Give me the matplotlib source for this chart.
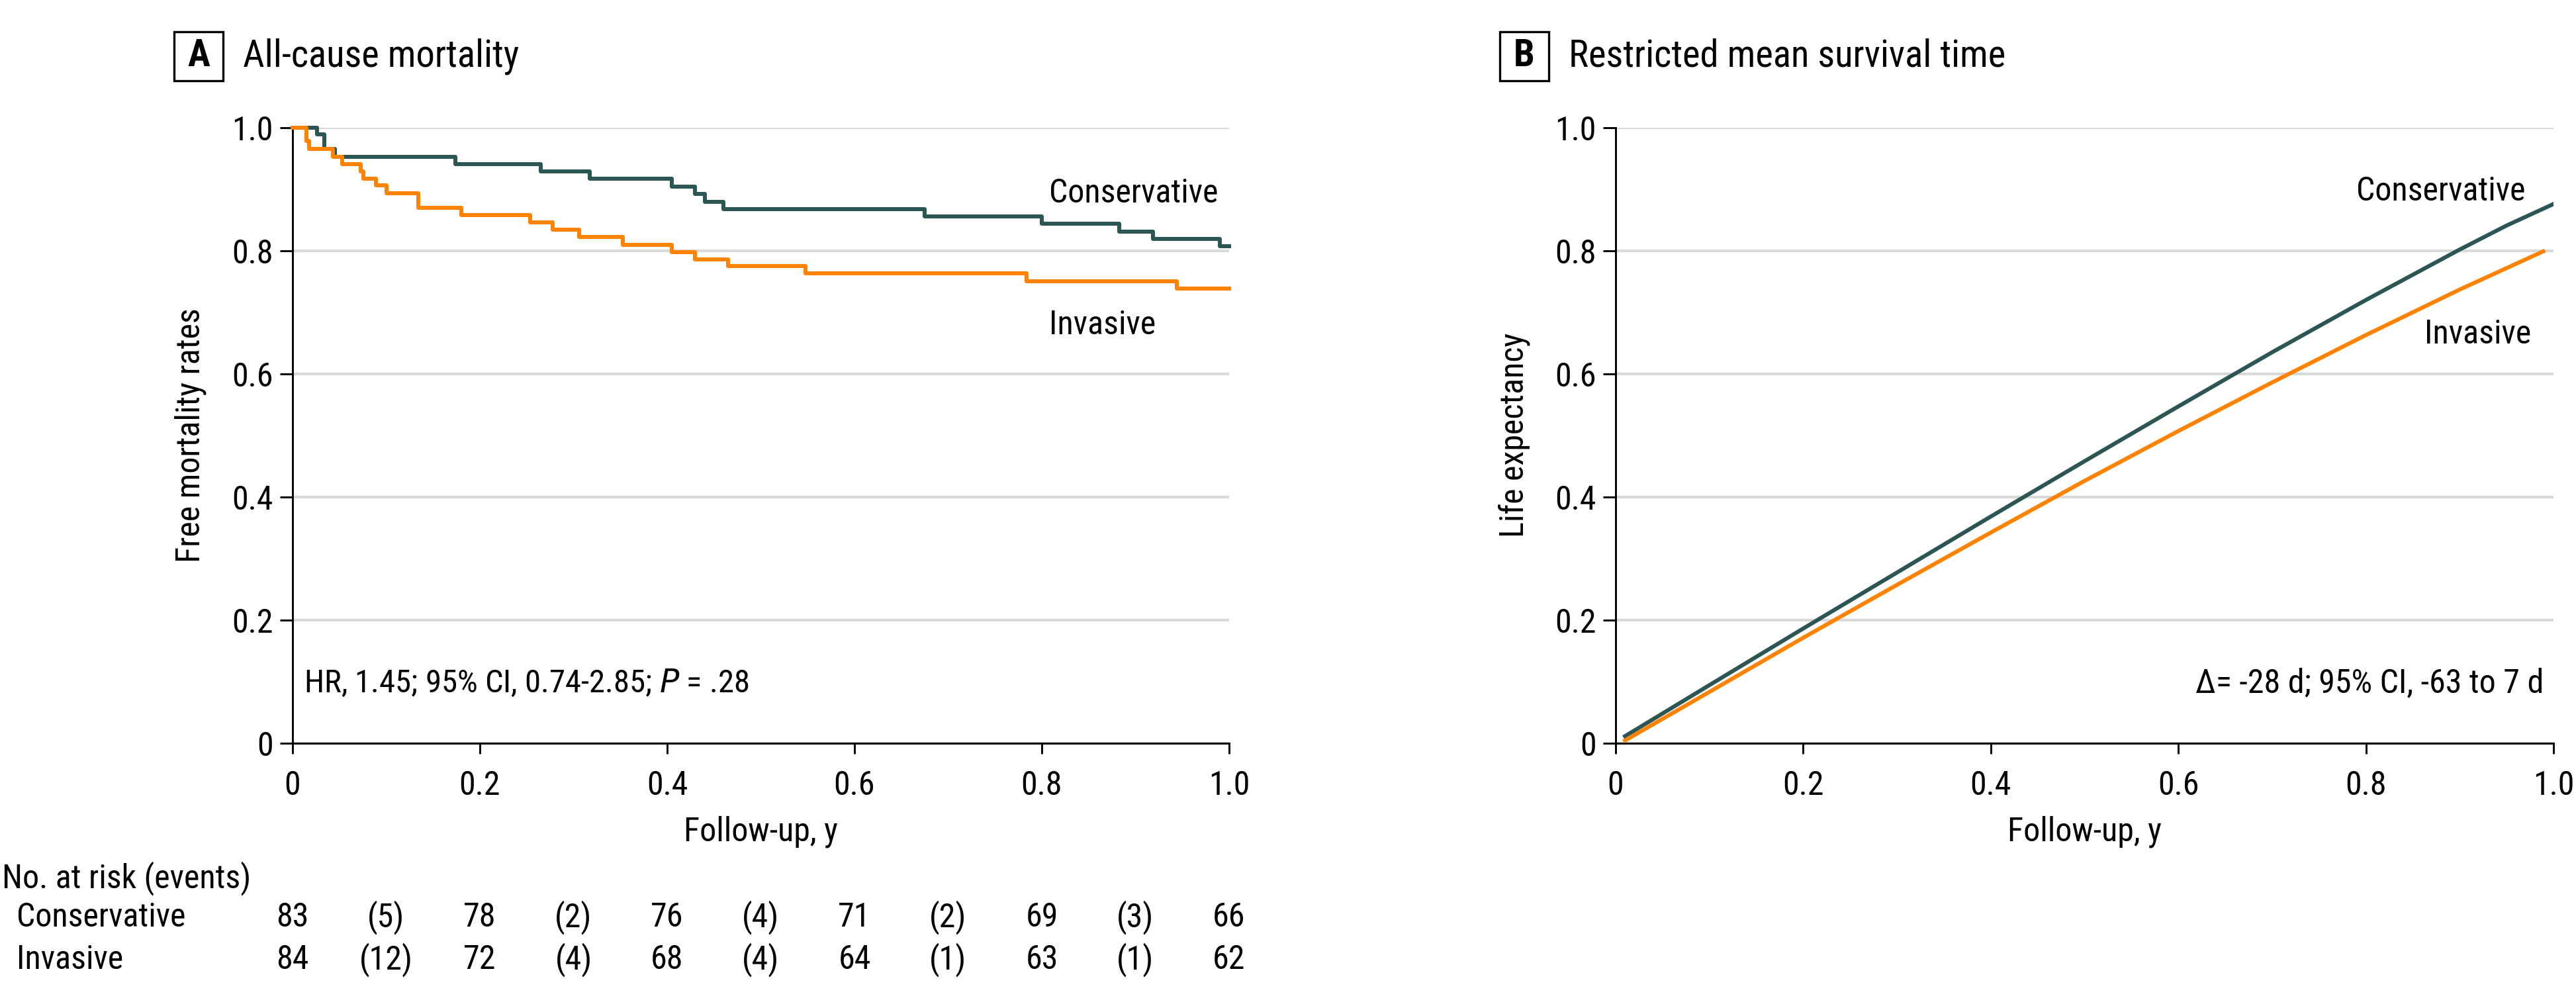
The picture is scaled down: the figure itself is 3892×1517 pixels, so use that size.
import matplotlib
matplotlib.use("Agg")
import matplotlib.pyplot as plt
import matplotlib.font_manager as fm
from matplotlib.patches import Rectangle
from matplotlib.transforms import blended_transform_factory

# ---- data ----
# panel A: Kaplan-Meier steps (time in years, survival)
cons_t = [0, 0.026, 0.034, 0.045, 0.174, 0.265, 0.317, 0.405, 0.430, 0.440, 0.460,
          0.675, 0.800, 0.883, 0.919, 0.990, 1.0]
cons_s = [1.0, 0.989, 0.965, 0.953, 0.941, 0.929, 0.917, 0.904, 0.892, 0.880, 0.868,
          0.856, 0.844, 0.831, 0.819, 0.807, 0.807]
inv_t = [0, 0.0146, 0.018, 0.043, 0.053, 0.0725, 0.0753, 0.0889, 0.100, 0.134, 0.180,
         0.254, 0.278, 0.306, 0.353, 0.405, 0.430, 0.465, 0.548, 0.784, 0.944, 1.0]
inv_s = [1.0, 0.978, 0.966, 0.953, 0.941, 0.929, 0.917, 0.906, 0.894, 0.870, 0.858,
         0.846, 0.834, 0.822, 0.810, 0.798, 0.786, 0.775, 0.763, 0.750, 0.739, 0.739]

# number at risk table
risk_times = [0, 0.2, 0.4, 0.6, 0.8, 1.0]
cons_at_risk = [83, 78, 76, 71, 69, 66]
cons_events = [5, 2, 4, 2, 3]
inv_at_risk = [84, 72, 68, 64, 63, 62]
inv_events = [12, 4, 4, 1, 1]

# panel B: restricted mean survival time curves
rmst_cons_t = [0.01, 0.1, 0.2, 0.3, 0.4, 0.5, 0.6, 0.7, 0.8, 0.9, 0.95, 1.0]
rmst_cons = [0.011, 0.094, 0.186, 0.277, 0.368, 0.458, 0.547, 0.635, 0.720, 0.802, 0.841, 0.876]
rmst_inv_t = [0.01, 0.1, 0.2, 0.3, 0.4, 0.5, 0.6, 0.7, 0.8, 0.9, 0.989]
rmst_inv = [0.004, 0.083, 0.171, 0.257, 0.342, 0.426, 0.507, 0.586, 0.663, 0.737, 0.799]

ticks = [0, 0.2, 0.4, 0.6, 0.8, 1.0]
tick_labels = ["0", "0.2", "0.4", "0.6", "0.8", "1.0"]

# ---- font: prefer a condensed face ----
names = {f.name for f in fm.fontManager.ttflist}
family = "DejaVu Sans"
for cand in ["Roboto Condensed", "Liberation Sans Narrow", "DejaVu Sans Condensed",
             "Open Sans Condensed", "Noto Sans Condensed"]:
    if cand in names:
        family = cand
        break
plt.rcParams["font.family"] = [family, "DejaVu Sans"]

C_CONS = "#2b5654"
C_INV = "#ff8300"
FS = 12
FS_TITLE = 13.6

W, H = 3892, 1517
fig = plt.figure(figsize=(W / 300, H / 300), dpi=300)


def style_axes(ax):
    ax.set_xlim(0, 1)
    ax.set_ylim(0, 1)
    ax.set_xticks(ticks, tick_labels)
    ax.set_yticks(ticks, tick_labels)
    for s in ["top", "right"]:
        ax.spines[s].set_visible(False)
    for s in ["left", "bottom"]:
        ax.spines[s].set_linewidth(0.7)
    ax.tick_params(axis="y", direction="out", length=4.5, width=0.7, pad=2.5, labelsize=FS)
    ax.tick_params(axis="x", direction="out", length=3.8, width=0.7, pad=6, labelsize=FS)
    ax.grid(True, axis="y", color="#d9d9d9", linewidth=1.0)
    ax.set_axisbelow(True)
    ax.set_xlabel("Follow-up, y", fontsize=FS, labelpad=5)


def panel_title(x_box, letter, text):
    bw, bh = 74 / W, 74 / H
    y0 = 1 - 122 / H
    fig.patches.append(Rectangle((x_box / W, y0), bw, bh, transform=fig.transFigure,
                                 fill=False, edgecolor="black", linewidth=0.8))
    fig.text(x_box / W + bw / 2, y0 + bh / 2, letter, ha="center", va="center",
             fontsize=FS_TITLE, fontweight="bold")
    fig.text(x_box / W + bw + 30 / W, y0 + bh / 2, text, ha="left", va="center",
             fontsize=FS_TITLE)


# ---- panel A ----
ax1 = fig.add_axes([442 / W, 0.26, 1415 / W, 0.6128])
ax1.step(cons_t, cons_s, where="post", color=C_CONS, linewidth=1.45, clip_on=False, zorder=3)
ax1.step(inv_t, inv_s, where="post", color=C_INV, linewidth=1.45, clip_on=False, zorder=3)
style_axes(ax1)
ax1.set_ylabel("Free mortality rates", fontsize=FS)
ax1.yaxis.set_label_coords(-0.092, 0.5)
ax1.text(0.808, 0.894, "Conservative", fontsize=FS, ha="left", va="center")
ax1.text(0.808, 0.679, "Invasive", fontsize=FS, ha="left", va="center")
ax1.text(0.012, 0.097, "HR, 1.45; 95% CI, 0.74-2.85; $\\it{P}$ = .28", fontsize=11.7,
         ha="left", va="center")
panel_title(263, "A", "All-cause mortality")

# number at risk table below panel A
tr = blended_transform_factory(ax1.transData, fig.transFigure)
fig.text(3 / W, 1 - 1327 / H, "No. at risk (events)", fontsize=FS, ha="left", va="center")
rows = [("Conservative", cons_at_risk, cons_events, 1 - 1386 / H),
        ("Invasive", inv_at_risk, inv_events, 1 - 1450 / H)]
for label, at_risk, events, yy in rows:
    fig.text(25 / W, yy, label, fontsize=FS, ha="left", va="center")
    for t, n in zip(risk_times, at_risk):
        ax1.text(t, yy, str(n), transform=tr, fontsize=FS, ha="center", va="center")
    for i, e in enumerate(events):
        mid = (risk_times[i] + risk_times[i + 1]) / 2
        ax1.text(mid, yy, f"({e})", transform=tr, fontsize=FS, ha="center", va="center")

# ---- panel B ----
ax2 = fig.add_axes([2441 / W, 0.26, 1417 / W, 0.6128])
ax2.plot(rmst_cons_t, rmst_cons, color=C_CONS, linewidth=1.45, zorder=3)
ax2.plot(rmst_inv_t, rmst_inv, color=C_INV, linewidth=1.45, zorder=3)
style_axes(ax2)
ax2.set_ylabel("Life expectancy", fontsize=FS)
ax2.yaxis.set_label_coords(-0.091, 0.5)
ax2.text(0.970, 0.897, "Conservative", fontsize=FS, ha="right", va="center")
ax2.text(0.976, 0.664, "Invasive", fontsize=FS, ha="right", va="center")
ax2.text(0.990, 0.097, "\u0394= -28 d; 95% CI, -63 to 7 d", fontsize=FS, ha="right",
         va="center")
panel_title(2266, "B", "Restricted mean survival time")

fig.savefig("out.png", dpi=300, facecolor="white")
